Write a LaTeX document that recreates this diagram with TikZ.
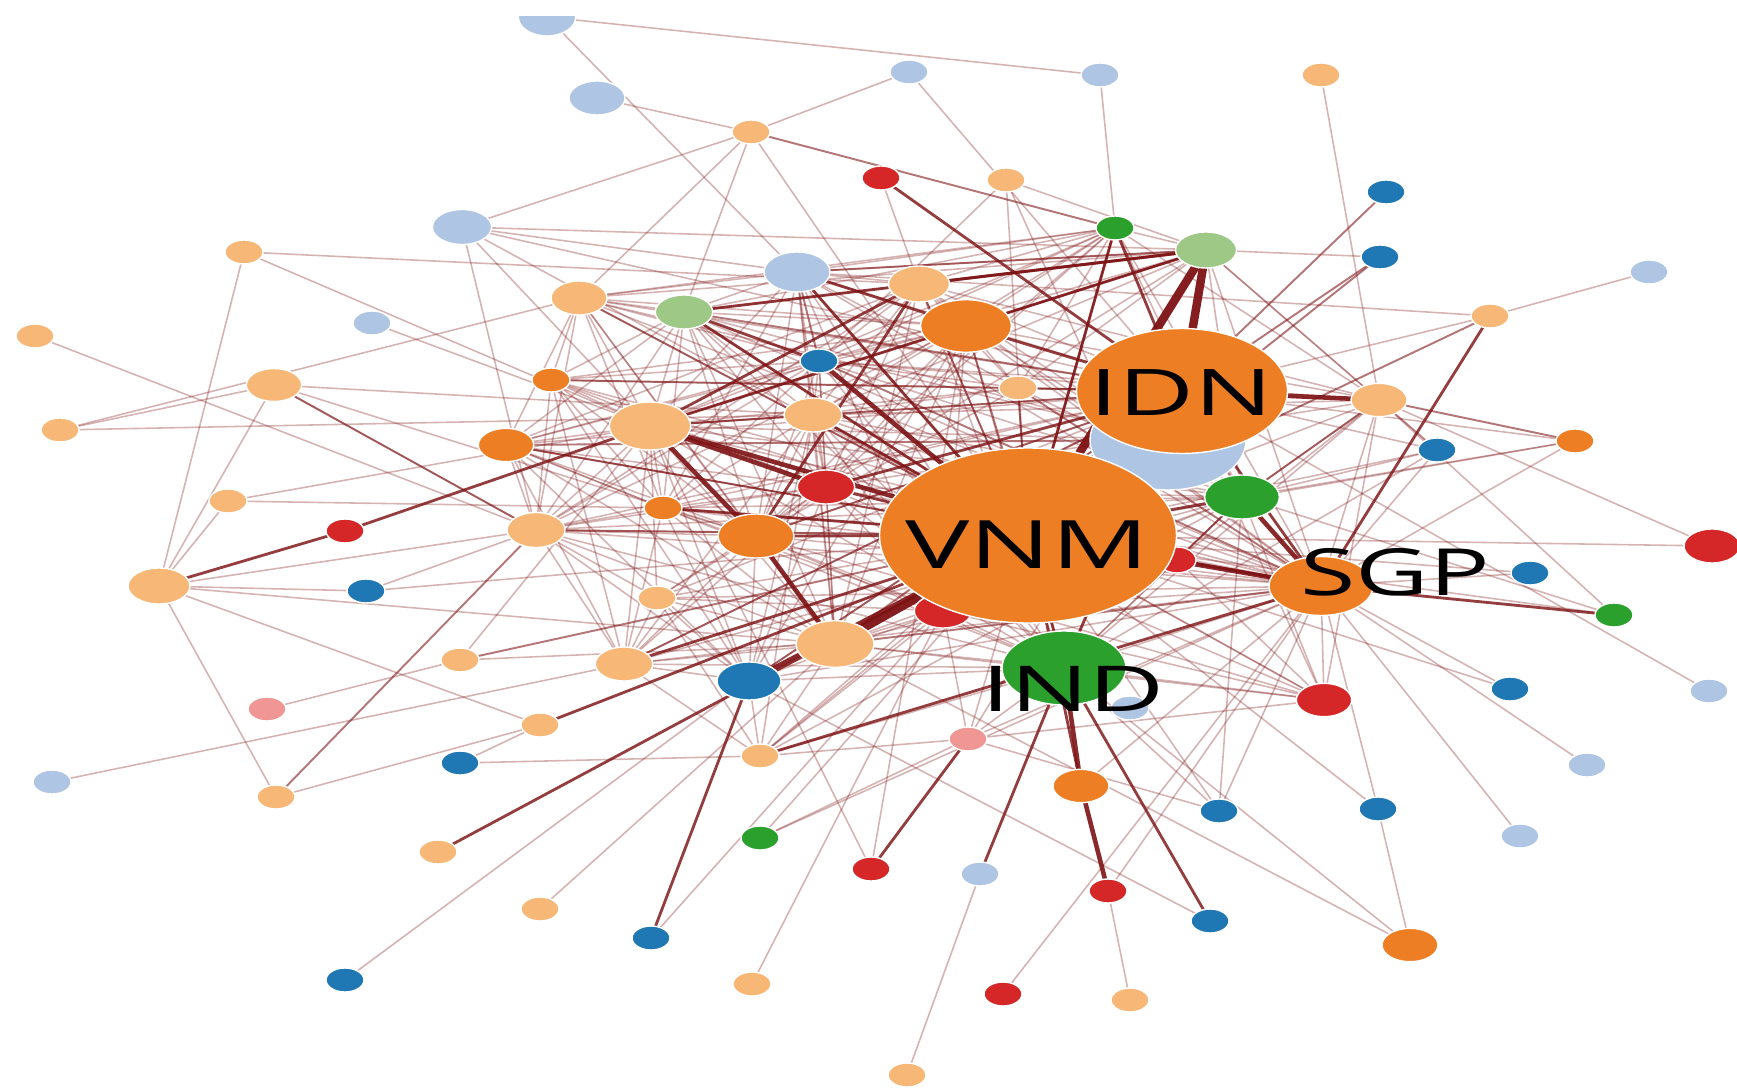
\documentclass[tikz,border=0pt]{standalone}
\usepackage{fontspec}
\newfontfamily\lblfont{Open Sans}
\usetikzlibrary{shapes.geometric}
\pgfdeclarelayer{edges}
\pgfsetlayers{edges,main}
\definecolor{cor}{HTML}{EE7E24}
\definecolor{clor}{HTML}{F7B877}
\definecolor{clb}{HTML}{AEC5E4}
\definecolor{cdb}{HTML}{1F77B4}
\definecolor{cred}{HTML}{D62728}
\definecolor{cgr}{HTML}{2CA02C}
\definecolor{clg}{HTML}{9DC886}
\definecolor{cpk}{HTML}{F09695}
\definecolor{ec}{RGB}{125,18,20}
\tikzset{
  nd/.style={ellipse, draw=white, line width=0.4pt, inner sep=0pt, outer sep=0pt},
  s/.style={minimum width=3.8mm, minimum height=2.4mm},
  sz/.style 2 args={minimum width={#1*0.2mm}, minimum height={#2*0.2mm}},
  et/.style={draw=ec, line width=0.45pt, draw opacity=0.32},
  em/.style={draw=ec, line width=0.55pt, draw opacity=0.58},
  es/.style={draw=ec, line width=0.8pt, draw opacity=0.82},
  eh/.style={draw=ec, line width=1.3pt, draw opacity=0.9},
  ev/.style={draw=ec, line width=2.4pt, draw opacity=0.95},
  lbl/.style={inner sep=0pt, text=black}
}
\begin{document}
\begin{tikzpicture}[x=0.1mm,y=-0.1mm]
\useasboundingbox (0,0) rectangle (1737,1088);
\begin{scope}
\clip (0,16.5) rectangle (1737,1088);
\node[nd,fill=clb,sz={28.7}{19}] (n1) at (547,17) {};
\end{scope}
\node[nd,fill=clb,sz={28}{17}] (n2) at (597,98) {};
\node[nd,fill=clb,s] (n3) at (909,72) {};
\node[nd,fill=clb,s] (n4) at (1100,75) {};
\node[nd,fill=clor,s] (n5) at (1321,75) {};
\node[nd,fill=clor,s] (n6) at (751,132) {};
\node[nd,fill=cred,s] (n7) at (881,178) {};
\node[nd,fill=clor,s] (n8) at (1006,180) {};
\node[nd,fill=cdb,s] (n9) at (1386,192) {};
\node[nd,fill=clb,sz={29.6}{17.5}] (n10) at (462,227) {};
\node[nd,fill=clor,s] (n11) at (244,252) {};
\node[nd,fill=cgr,s] (n12) at (1115,228) {};
\node[nd,fill=clg,sz={30.5}{18}] (n13) at (1206,250) {};
\node[nd,fill=cdb,s] (n14) at (1380,257) {};
\node[nd,fill=clb,sz={33}{20}] (n15) at (797,272) {};
\node[nd,fill=clor,sz={30.5}{18}] (n16) at (919,284) {};
\node[nd,fill=clb,s] (n17) at (1649,272) {};
\node[nd,fill=clor,sz={28}{17}] (n18) at (579,298) {};
\node[nd,fill=clg,sz={28.7}{17}] (n19) at (684,312) {};
\node[nd,fill=clor,s] (n20) at (1490,316) {};
\node[nd,fill=cor,sz={45.5}{26.3}] (n21) at (966,326) {};
\node[nd,fill=clb,s] (n22) at (372,323) {};
\node[nd,fill=clor,s] (n23) at (35,336) {};
\node[nd,fill=cdb,s] (n24) at (819,361) {};
\node[nd,fill=cor,s] (n25) at (551,380) {};
\node[nd,fill=clor,sz={27.7}{16.5}] (n26) at (274,385) {};
\node[nd,fill=clor,s] (n28) at (1018,388) {};
\node[nd,fill=clor,sz={28}{16.7}] (n29) at (1379,400) {};
\node[nd,fill=clor,sz={29}{17}] (n30) at (813,415) {};
\node[nd,fill=clor,sz={40.7}{24}] (n31) at (650,426) {};
\node[nd,fill=clor,s] (n32) at (60,430) {};
\node[nd,fill=cor,s] (n33) at (1575,441) {};
\node[nd,fill=clb,sz={78}{50}] (n34) at (1168,440) {};
\node[nd,fill=cor,sz={27.7}{16.7}] (n35) at (506,445) {};
\node[nd,fill=cdb,s] (n36) at (1437,450) {};
\node[nd,fill=cred,sz={28.7}{17}] (n37) at (826,487) {};
\node[nd,fill=cgr,sz={37.4}{22}] (n38) at (1242,497) {};
\node[nd,fill=clor,s] (n39) at (228,501) {};
\node[nd,fill=cor,s] (n40) at (663,508) {};
\node[nd,fill=clor,sz={29}{17.5}] (n41) at (536,530) {};
\node[nd,fill=cred,s] (n42) at (345,531) {};
\node[nd,fill=cor,sz={38}{22}] (n44) at (756,536) {};
\node[nd,fill=cred,sz={28}{17}] (n45) at (1712,546) {};
\node[nd,fill=cred,sz={19}{13}] (n46) at (1177,560) {};
\node[nd,fill=cdb,s] (n47) at (1530,573) {};
\node[nd,fill=clor,sz={31}{18}] (n49) at (159,586) {};
\node[nd,fill=cdb,s] (n50) at (366,591) {};
\node[nd,fill=clor,s] (n51) at (657,598) {};
\node[nd,fill=cred,sz={28.7}{17}] (n52) at (943,611) {};
\node[nd,fill=cgr,s] (n53) at (1614,615) {};
\node[nd,fill=clor,sz={39}{23.3}] (n54) at (835,644) {};
\node[nd,fill=clor,s] (n55) at (460,660) {};
\node[nd,fill=clor,sz={28.7}{17}] (n56) at (624,664) {};
\node[nd,fill=cdb,sz={32}{19}] (n58) at (749,681) {};
\node[nd,fill=cdb,s] (n59) at (1510,689) {};
\node[nd,fill=clb,s] (n60) at (1709,691) {};
\node[nd,fill=cred,sz={27.7}{16.7}] (n61) at (1324,700) {};
\node[nd,fill=clb,s] (n62) at (1130,708) {};
\node[nd,fill=cpk,s] (n63) at (267,709) {};
\node[nd,fill=clor,s] (n64) at (540,725) {};
\node[nd,fill=cpk,s] (n65) at (968,739) {};
\node[nd,fill=clor,s] (n66) at (760,756) {};
\node[nd,fill=cdb,s] (n67) at (460,763) {};
\node[nd,fill=clb,s] (n68) at (1587,765) {};
\node[nd,fill=clb,s] (n69) at (52,782) {};
\node[nd,fill=cor,sz={28}{16.7}] (n70) at (1081,786) {};
\node[nd,fill=clor,s] (n71) at (276,797) {};
\node[nd,fill=cdb,s] (n72) at (1219,811) {};
\node[nd,fill=cdb,s] (n73) at (1378,809) {};
\node[nd,fill=clb,s] (n74) at (1520,836) {};
\node[nd,fill=cgr,s] (n75) at (760,838) {};
\node[nd,fill=clor,s] (n76) at (438,852) {};
\node[nd,fill=cred,s] (n77) at (871,869) {};
\node[nd,fill=clb,s] (n78) at (980,874) {};
\node[nd,fill=cred,s] (n79) at (1108,891) {};
\node[nd,fill=clor,s] (n80) at (540,909) {};
\node[nd,fill=cdb,s] (n81) at (651,938) {};
\node[nd,fill=cdb,s] (n82) at (1210,921) {};
\node[nd,fill=cor,sz={28}{16.7}] (n83) at (1410,945) {};
\node[nd,fill=cdb,s] (n84) at (345,980) {};
\node[nd,fill=clor,s] (n85) at (752,984) {};
\node[nd,fill=cred,s] (n86) at (1003,994) {};
\node[nd,fill=clor,s] (n87) at (1130,1000) {};
\node[nd,fill=clor,s] (n88) at (907,1075) {};
% hubs
\node[nd,fill=cor,sz={105.5}{62.5}] (n27) at (1182,391) {};
\node[nd,fill=cor,sz={148.5}{87.5}] (n43) at (1028,535.5) {};
\node[nd,fill=cgr,sz={62}{37}] (n57) at (1064,668) {};
\node[nd,fill=cor,sz={52}{29.5}] (n48) at (1321,586) {};
% labels
\node[lbl,font=\lblfont\fontsize{19pt}{19pt}\selectfont] (lVNM) at (1027,545) {\scalebox{1.62}[1]{VNM}};
\node[lbl,font=\lblfont\fontsize{18.3pt}{18.3pt}\selectfont] (lIDN) at (1181,393) {\scalebox{1.62}[1]{IDN}};
\node[lbl,font=\lblfont\fontsize{18.5pt}{18.5pt}\selectfont] (lSGP) at (1395,572) {\scalebox{1.55}[1]{SGP}};
\node[lbl,font=\lblfont\fontsize{18pt}{18pt}\selectfont] (lIND) at (1073,689) {\scalebox{1.65}[1]{IND}};

\begin{pgfonlayer}{edges}
% peripheral thin
\foreach \a/\b in {n1/n4,n1/n15,n2/n6,n3/n6,n3/n27,n4/n12,n5/n29,n6/n10,n6/n18,n6/n19,n6/n43,n7/n16,n8/n24,n8/n46,n8/n13,n8/n43,n10/n13,n10/n15,n10/n41,n11/n16,n11/n31,n11/n49,n22/n31,n23/n41,n32/n18,n32/n26,n32/n30,n13/n14,n13/n36,n15/n20,n17/n20,n29/n45,n33/n38,n33/n48,n33/n27,n43/n45,n47/n48,n43/n47,n43/n53,n29/n53,n38/n53,n43/n59,n48/n59,n27/n60,n48/n68,n48/n74,n48/n72,n43/n72,n38/n72,n57/n72,n43/n73,n48/n73,n58/n82,n54/n83,n57/n83,n73/n83,n48/n79,n48/n86,n79/n87,n78/n88,n31/n77,n21/n77,n75/n48,n81/n52,n75/n43,n85/n52,n84/n58,n80/n54,n49/n71,n71/n64,n67/n64,n67/n66,n69/n56,n63/n55,n55/n54,n49/n41,n49/n50,n49/n54,n50/n41,n50/n43,n49/n64,n49/n26,n26/n30,n26/n41,n26/n44,n39/n40,n39/n49,n66/n65,n65/n72,n13/n48,n75/n65}
  \draw[et] (\a) -- (\b);
% central mesh thin
\foreach \a/\b in {n43/n15,n43/n16,n43/n18,n43/n19,n43/n25,n43/n28,n43/n30,n43/n35,n43/n40,n43/n41,n43/n51,n43/n66,n43/n29,n43/n27,n43/n46,n43/n65,n43/n61,n43/n10,n43/n36,n43/n33,
n27/n15,n27/n16,n27/n18,n27/n24,n27/n25,n27/n28,n27/n30,n27/n35,n27/n40,n27/n41,n27/n44,n27/n51,n27/n56,n27/n58,n27/n61,n27/n36,n27/n20,n27/n66,n27/n65,n27/n10,
n48/n31,n48/n37,n48/n41,n48/n44,n48/n56,n48/n58,n48/n16,n48/n21,n48/n19,n48/n30,n48/n40,n48/n51,n48/n52,n48/n29,n48/n36,n48/n61,n48/n57,n48/n12,n48/n65,n48/n70,n48/n35,n48/n25,n48/n18,n48/n15,
n57/n31,n57/n37,n57/n44,n57/n54,n57/n58,n57/n41,n57/n56,n57/n30,n57/n21,n57/n16,n57/n38,n57/n46,n57/n61,n57/n65,n57/n66,n57/n52,n57/n19,n57/n24,n57/n35,n57/n15,n57/n29,n57/n36,
n31/n19,n31/n15,n31/n18,n31/n21,n31/n24,n31/n28,n31/n35,n31/n40,n31/n41,n31/n51,n31/n54,n31/n56,n31/n58,n31/n25,n31/n38,n31/n12,n31/n13,n31/n10,n31/n39,n31/n55,
n21/n16,n21/n19,n21/n24,n21/n28,n21/n30,n21/n37,n21/n44,n21/n12,n21/n38,n21/n29,n21/n18,n21/n35,n21/n25,n21/n54,n21/n41,n21/n52,n21/n58,
n54/n18,n54/n19,n54/n24,n54/n30,n54/n35,n54/n37,n54/n40,n54/n41,n54/n51,n54/n56,n54/n58,n54/n66,n54/n16,n54/n15,n54/n38,n54/n46,n54/n52,
n44/n18,n44/n19,n44/n24,n44/n30,n44/n15,n44/n25,n44/n35,n44/n40,n44/n41,n44/n51,n44/n56,n44/n58,n44/n12,n44/n28,n44/n37,n44/n52,
n16/n15,n16/n19,n16/n24,n16/n30,n16/n37,n16/n12,n16/n28,n16/n38,n16/n29,n16/n35,n16/n41,
n15/n19,n15/n30,n15/n37,n15/n12,n15/n13,n15/n28,n15/n18,n15/n40,n15/n52,
n19/n30,n19/n37,n19/n18,n19/n35,n19/n40,n19/n41,n19/n12,n19/n25,
n13/n18,n13/n24,n13/n28,n13/n30,n13/n37,n13/n38,n13/n29,n13/n12,
n12/n24,n12/n28,n12/n30,n12/n37,n12/n38,n12/n29,n12/n18,
n38/n28,n38/n30,n38/n37,n38/n29,n38/n61,n38/n24,n38/n52,n38/n40,n38/n41,n38/n56,n38/n36,n38/n66,
n29/n28,n29/n30,n29/n37,n29/n36,n29/n46,n29/n61,n29/n24,
n58/n37,n58/n41,n58/n40,n58/n51,n58/n56,n58/n66,n58/n52,n58/n35,n58/n25,n58/n30,
n37/n24,n37/n25,n37/n30,n37/n35,n37/n40,n37/n41,n37/n51,n37/n56,n37/n52,
n41/n35,n41/n25,n41/n40,n41/n51,n41/n56,n41/n18,n41/n24,
n56/n40,n56/n51,n56/n35,n56/n25,n56/n30,n56/n66,
n61/n46,n61/n52,n61/n37,n61/n54,n61/n44,n61/n65,n61/n30,
n52/n30,n52/n40,n52/n51,n52/n66,n52/n65,n66/n51,n66/n30,n24/n28,n24/n30,n24/n35,n24/n25,n24/n40,n24/n18,
n18/n35,n18/n25,n18/n40,n35/n40,n25/n40,n30/n40,n30/n28,n46/n38,n34/n31,n34/n19,n34/n18}
  \draw[et] (\a) -- (\b);
% medium
\foreach \a/\b in {n6/n12,n9/n43,n14/n43,n14/n27,n20/n43,n29/n33,n71/n41,n55/n43,n43/n21,n43/n12,n27/n19,n27/n31,n27/n54,n27/n38,n48/n54,n48/n28,n48/n24,n31/n30,n15/n24,n26/n41,n13/n21,n35/n34,n13/n15,n38/n46,n27/n34,n29/n38,n43/n18,n25/n27,n35/n43,n44/n27,n16/n43,n28/n43,n41/n43,n58/n27,n56/n27}
  \draw[em] (\a) -- (\b);
% strong
\foreach \a/\b in {n20/n48,n48/n53,n57/n78,n77/n65,n81/n58,n76/n43,n49/n42,n42/n31,n7/n27,n19/n13,n57/n82,n66/n48,n43/n37,n43/n44,n43/n38,n43/n57,n43/n52,n43/n70,n27/n12,n27/n21,n27/n48,n16/n13,n15/n21,n21/n13,n16/n31,n19/n24,n56/n43,n16/n44,n64/n43,n12/n43,n27/n57,n43/n46,n48/n46,n31/n21,n19/n43,n30/n43,n37/n27,n40/n43,n15/n43}
  \draw[es] (\a) -- (\b);
% heavy
\foreach \a/\b in {n31/n37,n31/n43,n31/n44,n44/n54,n58/n43,n24/n43,n43/n48,n38/n48,n27/n29,n57/n70,n70/n79}
  \draw[eh] (\a) -- (\b);
% very heavy
\foreach \a/\b in {n13/n43,n13/n27,n54/n43}
  \draw[ev] (\a) -- (\b);
\end{pgfonlayer}
\end{tikzpicture}
\end{document}
